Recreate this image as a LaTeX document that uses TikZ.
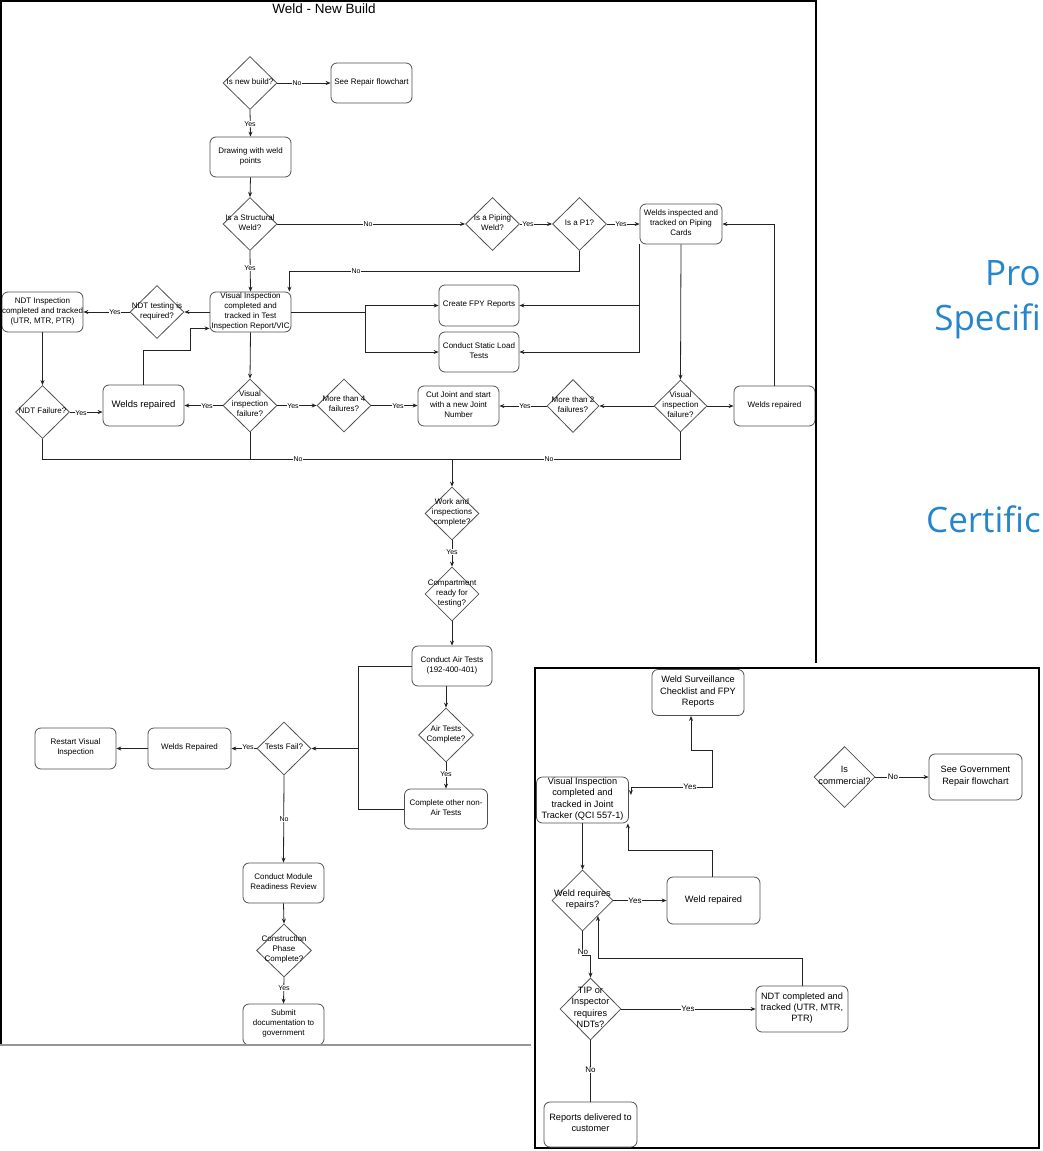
\documentclass[tikz,border=0pt]{standalone}
\usepackage{fontspec}
\setmainfont{Liberation Sans}
\newfontfamily\bluefont{Open Sans}
\usetikzlibrary{shapes.geometric,arrows.meta,calc}
\definecolor{lnc}{RGB}{35,35,35}
\definecolor{bdc}{RGB}{80,80,80}
\definecolor{bluetxt}{RGB}{38,134,204}
\definecolor{framebot}{RGB}{150,150,150}
\newcommand{\dt}[1]{\raisebox{-0.33em}{\smash{\makebox[0pt]{\begin{tabular}{@{}c@{}}#1\end{tabular}}}}}
\begin{document}
\begin{tikzpicture}[x=1pt,y=-1pt,
  box/.style={rectangle, rounded corners=6pt, draw=bdc, line width=0.8pt, fill=white,
    minimum width=81pt, minimum height=40pt, inner sep=0pt, font=\fontsize{8}{10}\selectfont},
  dia/.style={diamond, draw=bdc, line width=0.8pt, fill=white,
    minimum width=54pt, minimum height=53pt, inner sep=0pt, font=\fontsize{8}{10}\selectfont},
  box2/.style={box, minimum width=92pt, minimum height=46pt, font=\fontsize{9.2}{11.2}\selectfont},
  dia2/.style={dia, minimum width=61pt, minimum height=61pt, font=\fontsize{9.2}{11.2}\selectfont},
  ln/.style={draw=lnc, line width=0.8pt},
  arr/.style={ln, -{Stealth[length=5pt,width=4pt]}},
  arrb/.style={ln, {Stealth[length=5pt,width=4pt]}-{Stealth[length=5pt,width=4pt]}},
  lbl/.style={fill=white, inner sep=0.6pt, font=\fontsize{7}{8}\selectfont},
  lbl2/.style={fill=white, inner sep=0.6pt, font=\fontsize{8}{9}\selectfont},
  bluet/.style={text=bluetxt, anchor=base east, inner sep=0pt, font=\bluefont\fontsize{35}{40}\selectfont}
]
\useasboundingbox (0,0) rectangle (1043,1151);
\fill[white] (0,0) rectangle (1043,1151);

% ---------- main flowchart ----------
\node[font=\fontsize{13.5}{15}\selectfont, inner sep=0pt] (title) at (324,8.5) {Weld - New Build};

\node[dia] (n1) at (250,83) {\dt{Is new build?}};
\node[box] (rep) at (371.5,83) {\dt{See Repair flowchart}};
\node[box] (drw) at (250.5,157) {\dt{Drawing with weld\\points}};
\node[dia] (sw) at (250,224) {\dt{Is a Structural\\Weld?}};
\node[dia] (pw) at (492.5,224) {\dt{Is a Piping\\Weld?}};
\node[dia] (p1) at (579.5,224) {\dt{Is a P1?}};
\node[box, minimum width=82pt] (wic) at (681,224) {\dt{Welds inspected and\\tracked on Piping\\Cards}};
\node[box] (vi) at (250.5,312) {\dt{Visual Inspection\\completed and\\tracked in Test\\Inspection Report/VIC}};
\node[dia] (ndtq) at (157,312) {\dt{NDT testing is\\required?}};
\node[box] (ndtb) at (42.5,312) {\dt{NDT Inspection\\completed and tracked\\(UTR, MTR, PTR)}};
\node[box, minimum width=80pt, minimum height=41pt] (fpy) at (479,305.5) {\dt{Create FPY Reports}};
\node[box, minimum width=80pt] (slt) at (479,352) {\dt{Conduct Static Load\\Tests}};
\node[dia] (ndtf) at (42.5,412) {\dt{NDT Failure?}};
\node[box, minimum height=41pt, font=\fontsize{9.5}{11}\selectfont] (wrl) at (143.5,405.5) {\dt{Welds repaired}};
\node[dia] (vif) at (250,405.5) {\dt{Visual\\inspection\\failure?}};
\node[dia] (m4) at (344,405.5) {\dt{More than 4\\failures?}};
\node[box] (cut) at (458.5,406) {\dt{Cut Joint and start\\with a new Joint\\Number}};
\node[dia, minimum width=52pt] (m2) at (573,406) {\dt{More than 2\\failures?}};
\node[dia, minimum width=53pt, minimum height=52pt] (vir) at (680.5,406) {\dt{Visual\\inspection\\failure?}};
\node[box] (wrr) at (774.5,406) {\dt{Welds repaired}};
\node[dia] (wk) at (452,513.5) {\dt{Work and\\inspections\\complete?}};
\node[dia, minimum height=54pt] (cmp) at (452,594) {\dt{Compartment\\ready for\\testing?}};
\node[box, minimum width=80pt] (air) at (452,666) {\dt{Conduct Air Tests\\(192-400-401)}};
\node[dia, minimum width=55pt, minimum height=54pt] (atc) at (446,735) {\dt{Air Tests\\Complete?}};
\node[box, minimum width=83pt] (oth) at (446,809) {\dt{Complete other non-\\Air Tests}};
\node[dia] (tf) at (284,748.5) {\dt{Tests Fail?}};
\node[box, minimum width=83pt, minimum height=41pt] (wrp) at (189.5,748.5) {\dt{Welds Repaired}};
\node[box, minimum height=41pt] (rst) at (75.5,748.5) {\dt{Restart Visual\\Inspection}};
\node[box] (mrr) at (283.5,883) {\dt{Conduct Module\\Readiness Review}};
\node[dia, minimum width=55pt] (cpc) at (284,950.5) {\dt{Construction\\Phase\\Complete?}};
\node[box, minimum height=41pt] (sub) at (283.5,1024.5) {\dt{Submit\\documentation to\\government}};

% connectors (main)
\draw[arr] (n1.east) -- (rep.west);
\draw[arr] (n1.south) -- (drw.north);
\draw[arr] (drw.south) -- (sw.north);
\draw[arr] (sw.east) -- (pw.west);
\draw[arr] (pw.east) -- (p1.west);
\draw[arr] (p1.east) -- (wic.west);
\draw[arr] (sw.south) -- (vi.north);
\draw[arr] (p1.south) -- ++(0,20.5) -| ($(vi.north east)+(-2,0)$);
\draw[arr] (wic.south west) |- (fpy.east);
\draw[arr] (wic.south west) |- (slt.east);
\draw[arr] (wic.south) -- (vir.north);
\draw[arr] (wrr.north) |- (wic.east);
\draw[arr] (vir.west) -- (m2.east);
\draw[arr] (vir.east) -- (wrr.west);
\draw[arr] (m2.west) -- (cut.east);
\draw[arr] (m4.east) -- (m4.east -| cut.west);
\draw[arr] (vif.east) -- (m4.west);
\draw[arr] (vif.west) -- (wrl.east);
\draw[arr] (vi.south) -- (vif.north);
\draw[arr] (vi.west) -- (ndtq.east);
\draw[arr] (ndtq.west) -- (ndtb.east);
\draw[arr] (ndtb.south) -- (ndtf.north);
\draw[arr] (ndtf.east) -- (ndtf.east -| wrl.west);
\draw[arr] (wrl.north) -- ++(0,-34) -- ++(47,0) |- ($(vi.south west)+(0,-4)$);
\coordinate (fk) at (365,312);
\draw[ln] (vi.east) -- (fk);
\draw[arr] (fk) |- (fpy.west);
\draw[arr] (fk) |- (slt.west);
\coordinate (jn) at (452,459.5);
\draw[ln] (ndtf.south) |- (jn);
\draw[ln] (vif.south) -- (vif.south |- jn);
\draw[ln] (vir.south) |- (jn);
\draw[arr] (jn) -- (wk.north);
\draw[arr] (wk.south) -- (cmp.north);
\draw[arr] (cmp.south) -- (air.north);
\draw[arr] (atc.north |- air.south) -- (atc.north);
\draw[arr] (atc.south) -- (oth.north);
\coordinate (tk) at (358,748.5);
\draw[ln] (air.west) -| (tk);
\draw[ln] (oth.west) -| (tk);
\draw[arr] (tk) -- (tf.east);
\draw[arr] (tf.west) -- (wrp.east);
\draw[arr] (wrp.west) -- (rst.east);
\draw[arr] (tf.south) -- (mrr.north);
\draw[arr] (mrr.south) -- (cpc.north);
\draw[arr] (cpc.south) -- (sub.north);

% labels (main)
\node[lbl] (la1) at (297,83) {No};
\node[lbl] (la2) at (250,124) {Yes};
\node[lbl] (la3) at (368,224) {No};
\node[lbl] (la4) at (528,224) {Yes};
\node[lbl] (la5) at (621,224) {Yes};
\node[lbl] (la6) at (250,268) {Yes};
\node[lbl] (la7) at (356,271) {No};
\node[lbl] (la8) at (115,312) {Yes};
\node[lbl] (la9) at (81,413) {Yes};
\node[lbl] (la10) at (207,406) {Yes};
\node[lbl] (la11) at (293,406) {Yes};
\node[lbl] (la12) at (398,406) {Yes};
\node[lbl] (la13) at (525,406) {Yes};
\node[lbl] (la14) at (298,459.5) {No};
\node[lbl] (la15) at (549,459.5) {No};
\node[lbl] (la16) at (452,552) {Yes};
\node[lbl] (la17) at (446,774) {Yes};
\node[lbl] (la18) at (248,747) {Yes};
\node[lbl] (la19) at (284,819) {No};
\node[lbl] (la20) at (284,988) {Yes};

% main frame
\draw[line width=1.3pt, black] (1,1045) -- (1,1) -- (816,1) -- (816,663);
\draw[line width=1.6pt, framebot] (0,1045) -- (531,1045);

% ---------- inset flowchart ----------
\draw[line width=1.3pt, black, fill=white] (535,668) rectangle (1039,1148);

\node[box2] (ws) at (698,692.5) {\dt{Weld Surveillance\\Checklist and FPY\\Reports}};
\node[box2] (vij) at (582.5,800) {\dt{Visual Inspection\\completed and\\tracked in Joint\\Tracker (QCI 557-1)}};
\node[dia2] (com) at (844.5,777) {\dt{Is\\commercial?}};
\node[box2, minimum width=93pt] (gov) at (975.5,777) {\dt{See Government\\Repair flowchart}};
\node[dia2] (wrq) at (582.5,900.5) {\dt{Weld requires\\repairs?}};
\node[box2, minimum width=93pt, minimum height=47pt] (wrp2) at (713.5,900.5) {\dt{Weld repaired}};
\node[dia2, minimum height=62pt] (tip) at (590.5,1009) {\dt{TIP or\\Inspector\\requires\\NDTs?}};
\node[box2] (ndtc) at (802,1009) {\dt{NDT completed and\\tracked (UTR, MTR,\\PTR)}};
\node[box2, minimum width=93pt, minimum height=45pt] (rdc) at (590.5,1124.5) {\dt{Reports delivered to\\customer}};

\draw[arrb] ($(vij.east)+(2,-5)$) -- ++(0,-8) -| ++(81,-37) -| ($(ws.south)+(-7,0)$);
\draw[arr] ($(wrp2.north)+(-1.5,0)$) -- ++(0,-26) -| ($(vij.south east)+(-1,0)$);
\draw[arr] (vij.south) -- (wrq.north);
\draw[arr] (wrq.east) -- (wrp2.west);
\draw[arr] (wrq.south) -- ++(0,24) -| (tip.north);
\draw[arr] (tip.east) -- (ndtc.west);
\draw[arr] (ndtc.north) -- ++(0,-27) -| ($(wrq.south)!0.5!(wrq.east)$);
\draw[ln] (tip.south) -- (rdc.north);
\draw[arr] (com.east) -- (gov.west);

\node[lbl2] (lb1) at (690,787) {Yes};
\node[lbl2] (lb2) at (893,777) {No};
\node[lbl2] (lb3) at (635,900.5) {Yes};
\node[lbl2] (lb4) at (583,952) {No};
\node[lbl2] (lb5) at (688,1009) {Yes};
\node[lbl2] (lb6) at (590.5,1070) {No};

% ---------- blue text at the right edge ----------
\node[bluet] (b1) at (1041,285) {Pro};
\node[bluet] (b2) at (1041,330) {Specifi};
\node[bluet] (b3) at (1041,532) {Certific};
\end{tikzpicture}
\end{document}
